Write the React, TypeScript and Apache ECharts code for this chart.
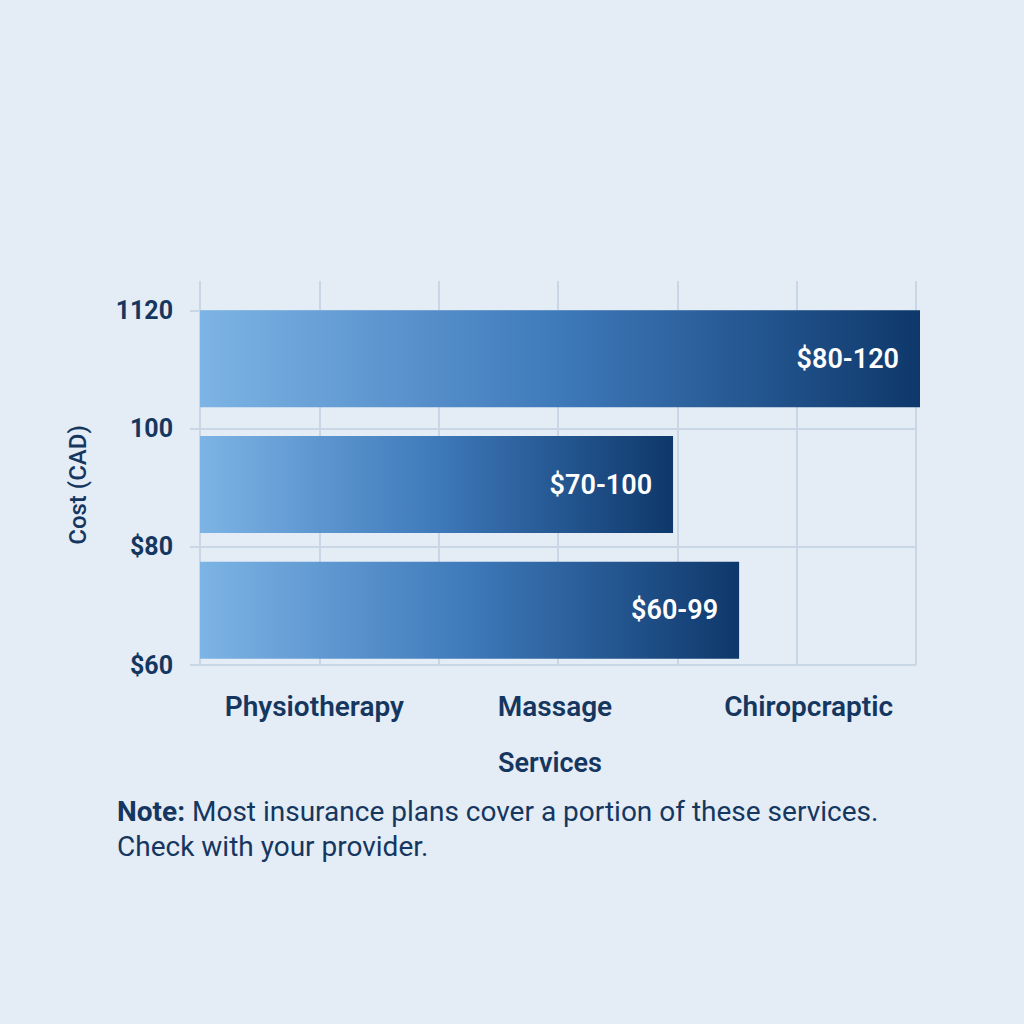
import React, { useEffect, useRef } from "react";
import * as echarts from "echarts";

const services = ["Physiotherapy", "Massage", "Chiropcraptic"];
const serviceLabelShift = [-5, -3, 12];
const barRanges = ["$80-120", "$70-100", "$60-99"];
const barValues = [121, 79.5, 90.6];
const yTickValues = [60, 80, 100, 120];
const yTickLabels = ["$60", "$80", "100", "1120"];
const gridSteps = [0, 1, 2, 3, 4, 5, 6];

const TEXT = "#15375f";
const GRID = "#c9d6e6";
const FONT = "Roboto, 'Noto Sans', sans-serif";

export default function App() {
  const ref = useRef<HTMLDivElement>(null);
  useEffect(() => {
    if (!ref.current) return;
    const chart = echarts.init(ref.current, null, { renderer: "svg" });
    const gradient = new echarts.graphic.LinearGradient(0, 0, 1, 0, [
      { offset: 0, color: "#7db4e5" },
      { offset: 0.5, color: "#3e79ba" },
      { offset: 1, color: "#0e386b" },
    ]);
    chart.setOption({
      animation: false,
      backgroundColor: "#e4ecf6",
      textStyle: { fontFamily: FONT },
      grid: [
        { left: 200, right: 108, top: 281, bottom: 359 },
        { left: 200, right: 104, top: 296, bottom: 351 },
      ],
      xAxis: [
        {
          type: "value",
          gridIndex: 0,
          min: gridSteps[0],
          max: gridSteps[gridSteps.length - 1],
          interval: 1,
          axisLine: { show: false },
          axisTick: { show: false },
          axisLabel: { show: false },
          splitLine: { show: true, lineStyle: { color: GRID, width: 2 } },
        },
        {
          type: "category",
          gridIndex: 0,
          data: services.map((s, i) => {
            const d = serviceLabelShift[i];
            return {
              value: s,
              textStyle: {
                padding: d >= 0 ? [0, 0, 0, 2 * d] : [0, -2 * d, 0, 0],
              },
            };
          }),
          position: "bottom",
          axisLine: { show: false },
          axisTick: { show: false },
          splitLine: { show: false },
          axisLabel: {
            color: TEXT,
            fontSize: 28,
            fontWeight: 600,
            fontFamily: FONT,
            margin: 27,
          },
          name: "Services",
          nameLocation: "middle",
          nameGap: 84,
          nameTextStyle: {
            color: TEXT,
            fontSize: 27,
            fontWeight: 600,
            fontFamily: FONT,
            padding: [0, 16, 0, 0],
          },
        },
        {
          type: "value",
          gridIndex: 1,
          min: 0,
          max: 121,
          show: false,
          splitLine: { show: false },
        },
      ],
      yAxis: [
        {
          type: "value",
          gridIndex: 0,
          min: 60,
          max: 125,
          interval: 20,
          axisLine: { show: false },
          axisTick: {
            show: true,
            length: 10,
            customValues: yTickValues,
            lineStyle: { color: GRID, width: 2 },
          },
          axisLabel: {
            customValues: yTickValues,
            color: TEXT,
            fontSize: 25,
            fontWeight: 700,
            fontFamily: FONT,
            margin: 27,
            formatter: (v: number) => {
              const i = yTickValues.indexOf(v);
              return i >= 0 ? yTickLabels[i] : "";
            },
          },
          splitLine: {
            show: true,
            lineStyle: { color: [GRID, GRID, GRID, GRID, "rgba(0,0,0,0)"], width: 2 },
          },
          name: "Cost (CAD)",
          nameLocation: "middle",
          nameGap: 110,
          nameTextStyle: {
            color: TEXT,
            fontSize: 24,
            fontWeight: 500,
            fontFamily: FONT,
            padding: [0, 24, 0, 0],
          },
        },
        {
          type: "category",
          gridIndex: 1,
          inverse: true,
          data: barRanges,
          show: false,
        },
      ],
      series: [
        {
          type: "bar",
          xAxisIndex: 2,
          yAxisIndex: 1,
          data: barValues,
          barWidth: 97,
          clip: false,
          itemStyle: { color: gradient },
          label: {
            show: true,
            position: "insideRight",
            distance: 21,
            formatter: "{b}",
            color: "#ffffff",
            fontSize: 27,
            fontWeight: 600,
            fontFamily: FONT,
          },
        },
      ],
      graphic: [
        {
          type: "text",
          left: 117,
          top: 794,
          style: {
            text: "{b|Note:} Most insurance plans cover a portion of these services.\nCheck with your provider.",
            fill: TEXT,
            fontSize: 28,
            fontFamily: FONT,
            lineHeight: 35,
            rich: {
              b: { fontWeight: 700, fontSize: 28, fill: TEXT, fontFamily: FONT, lineHeight: 35 },
            },
          },
        },
      ],
    });
    return () => chart.dispose();
  }, []);
  return (
    <div
      ref={ref}
      style={{ position: "fixed", left: 0, top: 0, width: 1024, height: 1024 }}
    />
  );
}
